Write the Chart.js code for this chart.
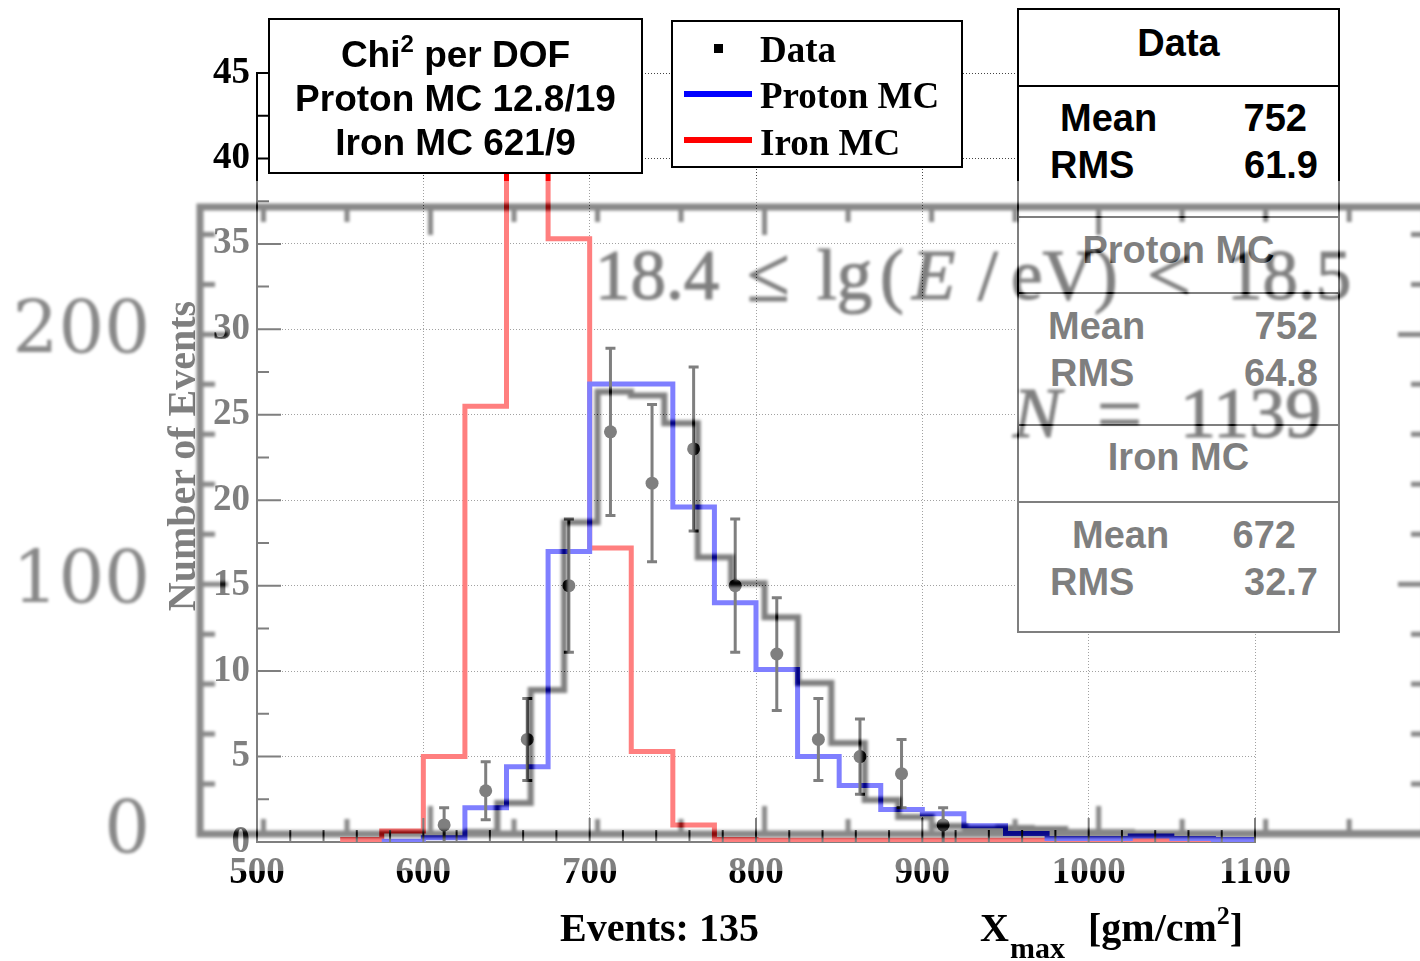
<!DOCTYPE html>
<html>
<head>
<meta charset="utf-8">
<script src="https://cdn.jsdelivr.net/npm/chart.js@4.4.1/dist/chart.umd.min.js"></script>
<style>
html, body { margin: 0; padding: 0; background: #fff; overflow: hidden; }
#page { position: relative; width: 1420px; height: 961px; overflow: hidden; background: #fff; }
#main { position: absolute; left: 0; top: 0; }
.abs { position: absolute; white-space: nowrap; }
.serif { font-family: 'Liberation Serif', 'Times New Roman', serif; font-weight: bold; color: #000; }
.sans { font-family: 'Liberation Sans', Arial, sans-serif; font-weight: bold; color: #000; }
.box { position: absolute; box-sizing: border-box; border: 2px solid #000; background: #fff; }
.rule { position: absolute; height: 2px; background: #000; }
.row { position: absolute; line-height: 44px; height: 44px; white-space: nowrap; }
#shade { position: absolute; left: 0; top: 181px; width: 1420px; height: 690px; overflow: hidden; opacity: 0.5; background: #fff; }
#shadeInner { position: absolute; left: 0; top: -181px; width: 1500px; height: 961px; filter: blur(1.6px); }
#bg { position: absolute; left: 0; top: 0; }
.tex { position: absolute; white-space: nowrap; font-family: 'Liberation Serif', 'Times New Roman', serif; color: #000; line-height: 1; -webkit-text-stroke: 1.2px #000; }
</style>
</head>
<body>
<div id="page">
  <canvas id="main" width="1420" height="961"></canvas>

  <!-- chi2 box -->
  <div class="box" style="left:268px; top:18px; width:375px; height:156px;"></div>
  <div class="row sans" style="left:268px; width:375px; top:33px; text-align:center; font-size:37px;">Chi<sup style="font-size:24px; line-height:0; vertical-align:15px;">2</sup> per DOF</div>
  <div class="row sans" style="left:268px; width:375px; top:77px; text-align:center; font-size:37px;">Proton MC 12.8/19</div>
  <div class="row sans" style="left:268px; width:375px; top:121px; text-align:center; font-size:37px;">Iron MC 621/9</div>

  <!-- legend -->
  <div class="box" style="left:671px; top:20px; width:292px; height:148px;"></div>
  <div class="abs" style="left:714px; top:44px; width:9px; height:9px; background:#000;"></div>
  <div class="abs" style="left:684px; top:91px; width:68px; height:6px; background:#0000ff;"></div>
  <div class="abs" style="left:684px; top:137px; width:68px; height:6px; background:#ff0000;"></div>
  <div class="abs serif" style="left:760px; top:31px; font-size:37px; line-height:37px;">Data</div>
  <div class="abs serif" style="left:760px; top:77px; font-size:37px; line-height:37px;">Proton MC</div>
  <div class="abs serif" style="left:760px; top:124px; font-size:37px; line-height:37px;">Iron MC</div>

  <!-- stats boxes -->
  <div class="box" style="left:1017px; top:8px; width:323px; height:625px;"></div>
  <div class="rule" style="left:1017px; width:323px; top:85px;"></div>
  <div class="rule" style="left:1017px; width:323px; top:216px;"></div>
  <div class="rule" style="left:1017px; width:323px; top:292px;"></div>
  <div class="rule" style="left:1017px; width:323px; top:424px;"></div>
  <div class="rule" style="left:1017px; width:323px; top:501px;"></div>
  <div class="row sans" style="left:1017px; width:323px; top:21px; text-align:center; font-size:38px;">Data</div>
  <div class="row sans" style="left:1060px; top:96px; font-size:38px;">Mean</div>
  <div class="row sans" style="right:113px; top:96px; font-size:38px;">752</div>
  <div class="row sans" style="left:1050px; top:143px; font-size:38px;">RMS</div>
  <div class="row sans" style="right:102px; top:143px; font-size:38px;">61.9</div>
  <div class="row sans" style="left:1017px; width:323px; top:228px; text-align:center; font-size:38px;">Proton MC</div>
  <div class="row sans" style="left:1048px; top:304px; font-size:38px;">Mean</div>
  <div class="row sans" style="right:102px; top:304px; font-size:38px;">752</div>
  <div class="row sans" style="left:1050px; top:351px; font-size:38px;">RMS</div>
  <div class="row sans" style="right:102px; top:351px; font-size:38px;">64.8</div>
  <div class="row sans" style="left:1017px; width:323px; top:435px; text-align:center; font-size:38px;">Iron MC</div>
  <div class="row sans" style="left:1072px; top:513px; font-size:38px;">Mean</div>
  <div class="row sans" style="right:124px; top:513px; font-size:38px;">672</div>
  <div class="row sans" style="left:1050px; top:560px; font-size:38px;">RMS</div>
  <div class="row sans" style="right:102px; top:560px; font-size:38px;">32.7</div>

  <!-- axis titles -->
  <div class="abs serif" style="left:-18px; top:434px; width:400px; height:44px; line-height:44px; text-align:center; font-size:40px; transform:rotate(-90deg);">Number of Events</div>
  <div class="abs serif" style="left:560px; top:908px; font-size:40px; line-height:40px;">Events: 135</div>
  <div class="abs serif" style="left:980px; top:908px; font-size:40px; line-height:40px;">X</div>
  <div class="abs serif" style="left:1010px; top:933px; font-size:30px; line-height:30px;">max</div>
  <div class="abs serif" style="left:1088px; top:908px; font-size:40px; line-height:40px;">[gm/cm<sup style="font-size:26px; line-height:0; vertical-align:17px;">2</sup>]</div>

  <!-- washed-out picture lying over the plot -->
  <div id="shade">
    <div id="shadeInner">
      <canvas id="bg" width="1500" height="961"></canvas>
      <div class="tex" style="left:595px; top:240px; font-size:71px;">18.4</div>
      <div class="tex" style="left:747px; top:236px; font-size:78px;">≤</div>
      <div class="tex" style="left:817px; top:240px; font-size:71px;">lg</div>
      <div class="tex" style="left:880px; top:240px; font-size:71px;">(</div>
      <div class="tex" style="left:912px; top:240px; font-size:71px; font-style:italic;">E</div>
      <div class="tex" style="left:978px; top:240px; font-size:71px;">/</div>
      <div class="tex" style="left:1011px; top:240px; font-size:71px;">eV</div>
      <div class="tex" style="left:1094px; top:240px; font-size:71px;">)</div>
      <div class="tex" style="left:1147px; top:236px; font-size:78px;">&lt;</div>
      <div class="tex" style="left:1227px; top:240px; font-size:71px;">18.5</div>
      <div class="tex" style="left:1013px; top:377px; font-size:72px; font-style:italic;">N</div>
      <div class="tex" style="left:1097px; top:374px; font-size:80px;">=</div>
      <div class="tex" style="left:1180px; top:377px; font-size:72px;">1139</div>
    </div>
  </div>
</div>

<script>
// Xmax histograms, 25 g/cm2 bins
var binEdges = [550, 575, 600, 625, 650, 675, 700, 725, 750, 775, 800, 825, 850, 875, 900, 925, 950, 975, 1000, 1025, 1050, 1075, 1100];
var ironMC   = [0.15, 0.65, 5.0, 25.5, 52, 35.3, 17.2, 5.3, 1.0, 0.15, 0.1, 0.1, 0.1, 0.1, 0.1, 0.1, 0.1, 0.1, 0.1, 0.1, 0.1, 0.1];
var protonMC = [null, 0.05, 0.25, 2.0, 4.4, 17.0, 26.8, 26.8, 19.6, 14.0, 10.1, 5.0, 3.3, 1.9, 1.65, 0.95, 0.5, 0.2, 0.2, 0.35, 0.2, 0.15];

// data points with errors
var dataX   = [612.5, 637.5, 662.5, 687.5, 712.5, 737.5, 762.5, 787.5, 812.5, 837.5, 862.5, 887.5, 912.5];
var dataY   = [1, 3, 6, 15, 24, 21, 23, 15, 11, 6, 5, 4, 1];
var dataErr = [1, 1.7, 2.4, 3.9, 4.9, 4.6, 4.8, 3.9, 3.3, 2.4, 2.2, 2.0, 1.0];

var xTickValues = [500, 600, 700, 800, 900, 1000, 1100];
var yTickValues = [0, 5, 10, 15, 20, 25, 30, 35, 40, 45];

// the faded picture behind (other energy bin)
var bgEdges  = [110, 120, 130, 140, 150, 160, 170, 180, 190, 200, 210, 220, 230, 240, 250, 260, 270, 280, 290, 300, 310, 320, 330, 340, 350, 360, 370, 380, 390, 400];
var bgCounts = [0.8, 12.4, 57.6, 124.8, 177, 175.5, 164.4, 110.8, 100.4, 86.8, 60.4, 36.4, 13.6, 6.8, 3.2, 2.0, 2.4, 2.0, 0.8, 0.8, 0.4, 0.4, 0.4, 0.4, 0.4, 0.4, 0.4, 0.4, 0.4];
var bgTickValues = [0, 100, 200];

function histPoints(edges, vals) {
  var pts = [];
  for (var i = 0; i < vals.length; i++) {
    pts.push({x: edges[i], y: vals[i]});
  }
  pts.push({x: edges[vals.length], y: vals[vals.length - 1]});
  return pts;
}

function isMajor(v, step) {
  return Math.abs(v / step - Math.round(v / step)) < 1e-6;
}

// ROOT style ticks drawn inside the frame
var frameTicks = {
  id: 'frameTicks',
  afterDraw: function (chart, args, o) {
    var ctx = chart.ctx, a = chart.chartArea, xs = chart.scales.x, ys = chart.scales.y;
    var v, p, len;
    ctx.save();
    ctx.strokeStyle = o.color;
    if (o.frame) {
      ctx.lineWidth = o.frame;
      ctx.strokeRect(a.left, a.top, a.right - a.left, a.bottom - a.top);
    }
    ctx.lineWidth = o.width;
    ctx.beginPath();
    for (v = o.yFrom; v <= ys.max + 1e-6; v += o.yStep) {
      p = ys.getPixelForValue(v);
      len = isMajor(v, o.yMajor) ? o.major : o.minor;
      ctx.moveTo(a.left, p); ctx.lineTo(a.left + len, p);
      if (o.mirror) { ctx.moveTo(a.right, p); ctx.lineTo(a.right - len, p); }
    }
    for (v = o.xFrom; v <= xs.max + 1e-6; v += o.xStep) {
      p = xs.getPixelForValue(v);
      len = isMajor(v, o.xMajor) ? o.major : o.minor;
      ctx.moveTo(p, a.bottom); ctx.lineTo(p, a.bottom - len);
      if (o.mirror) { ctx.moveTo(p, a.top); ctx.lineTo(p, a.top + len); }
    }
    ctx.stroke();
    ctx.restore();
  }
};

var errorBars = {
  id: 'errorBars',
  afterDatasetsDraw: function (chart) {
    var ctx = chart.ctx, xs = chart.scales.x, ys = chart.scales.y;
    ctx.save();
    ctx.strokeStyle = '#000';
    ctx.lineWidth = 3;
    ctx.beginPath();
    for (var i = 0; i < dataX.length; i++) {
      var px = xs.getPixelForValue(dataX[i]);
      var low = dataY[i] - dataErr[i];
      var lo = ys.getPixelForValue(Math.max(low, 0));
      var hi = ys.getPixelForValue(dataY[i] + dataErr[i]);
      ctx.moveTo(px, lo); ctx.lineTo(px, hi);
      ctx.moveTo(px - 5, hi); ctx.lineTo(px + 5, hi);
      if (low > 0.05) { ctx.moveTo(px - 5, lo); ctx.lineTo(px + 5, lo); }
    }
    ctx.stroke();
    ctx.restore();
  }
};

var tickFont = {family: "'Liberation Serif', 'Times New Roman', serif", size: 37, weight: 'bold'};
var plainLabel = function (v) { return String(v); };

var chart = new Chart(document.getElementById('main').getContext('2d'), {
  type: 'line',
  data: {
    datasets: [
      {
        label: 'Data',
        data: dataX.map(function (x, i) { return {x: x, y: dataY[i]}; }),
        showLine: false,
        pointRadius: 6.5,
        pointBackgroundColor: '#000',
        pointBorderWidth: 0
      },
      {
        label: 'Proton MC',
        data: histPoints(binEdges, protonMC),
        stepped: 'before',
        borderColor: '#0000ff',
        borderWidth: 5,
        pointRadius: 0,
        fill: false
      },
      {
        label: 'Iron MC',
        data: histPoints(binEdges, ironMC),
        stepped: 'before',
        borderColor: '#ff0000',
        borderWidth: 5,
        pointRadius: 0,
        fill: false
      }
    ]
  },
  options: {
    responsive: false,
    animation: false,
    devicePixelRatio: 1,
    events: [],
    layout: {padding: {top: 73, right: 165, left: 0, bottom: 0}},
    plugins: {
      legend: {display: false},
      tooltip: {enabled: false},
      frameTicks: {color: '#000', width: 2, major: 24, minor: 12,
        yFrom: 0, yStep: 2.5, yMajor: 5, xFrom: 500, xStep: 20, xMajor: 100}
    },
    scales: {
      x: {
        type: 'linear', min: 500, max: 1100,
        afterFit: function (s) { s.height = 119; },
        afterBuildTicks: function (s) { s.ticks = xTickValues.map(function (v) { return {value: v}; }); },
        ticks: {font: tickFont, color: '#000', padding: 9, maxRotation: 0, callback: plainLabel},
        grid: {color: '#444', lineWidth: 1, drawTicks: false},
        border: {display: true, color: '#000', width: 2, dash: [1, 2]}
      },
      y: {
        min: 0, max: 45,
        afterFit: function (s) { s.width = 257; },
        afterBuildTicks: function (s) { s.ticks = yTickValues.map(function (v) { return {value: v}; }); },
        ticks: {font: tickFont, color: '#000', padding: 7, callback: plainLabel},
        grid: {color: '#444', lineWidth: 1, drawTicks: false},
        border: {display: true, color: '#000', width: 2, dash: [1, 2]}
      }
    }
  },
  plugins: [frameTicks, errorBars]
});

var bgChart = new Chart(document.getElementById('bg').getContext('2d'), {
  type: 'line',
  data: {
    datasets: [{
      label: 'all',
      data: histPoints(bgEdges, bgCounts),
      stepped: 'before',
      borderColor: '#000',
      borderWidth: 6,
      pointRadius: 0,
      fill: false
    }]
  },
  options: {
    responsive: false,
    animation: false,
    devicePixelRatio: 1,
    events: [],
    layout: {padding: {top: 207, right: 74, left: 0, bottom: 0}},
    plugins: {
      legend: {display: false},
      tooltip: {enabled: false},
      frameTicks: {color: '#111', width: 5, frame: 7, major: 28, minor: 15, mirror: true,
        yFrom: 0, yStep: 20, yMajor: 100, xFrom: 50, xStep: 25, xMajor: 100}
    },
    scales: {
      x: {
        type: 'linear', min: 31, max: 398,
        afterFit: function (s) { s.height = 127; },
        ticks: {display: false},
        grid: {display: false, drawTicks: false},
        border: {display: false}
      },
      y: {
        min: 0, max: 251,
        afterFit: function (s) { s.width = 200; },
        afterBuildTicks: function (s) { s.ticks = bgTickValues.map(function (v) { return {value: v}; }); },
        ticks: {font: {family: "'DejaVu Serif', serif", size: 72}, color: '#111', padding: 50, callback: plainLabel},
        grid: {display: false, drawTicks: false},
        border: {display: false}
      }
    }
  },
  plugins: [frameTicks]
});
</script>
</body>
</html>
